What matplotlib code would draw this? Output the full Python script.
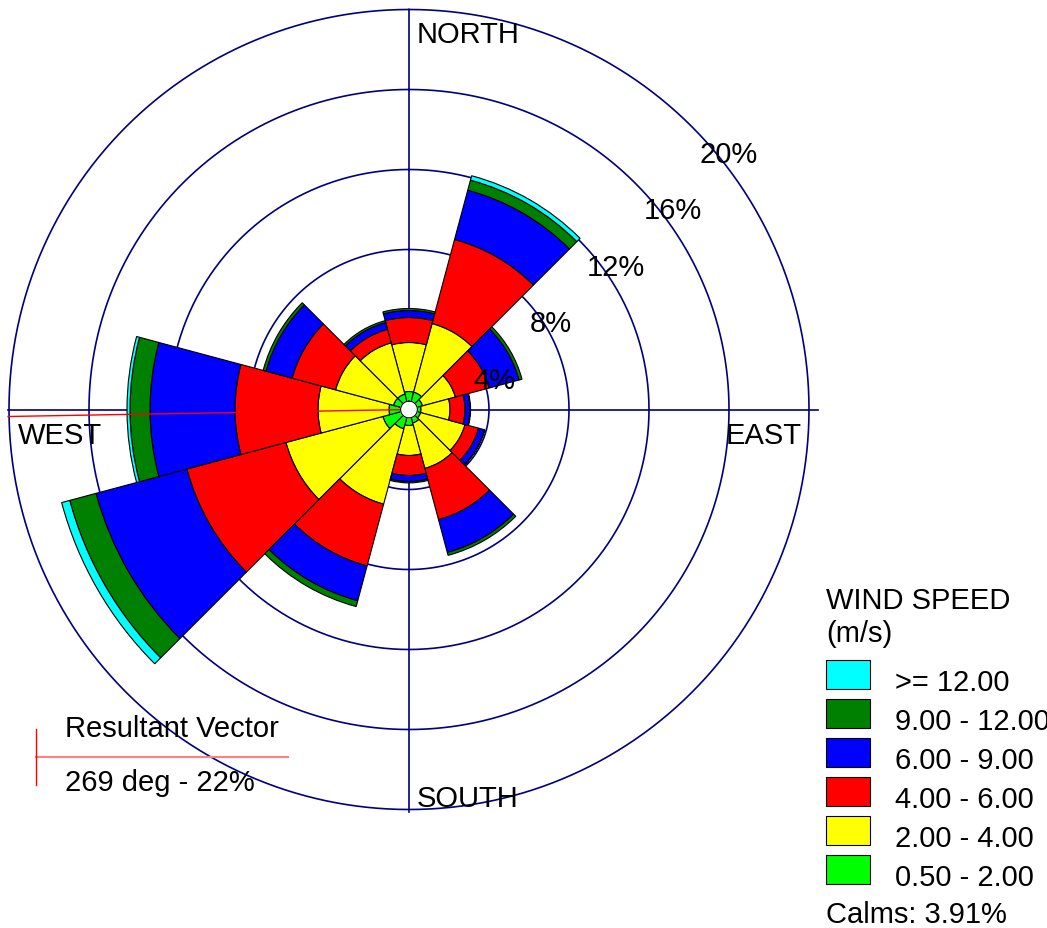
import numpy as np
import matplotlib
matplotlib.use("Agg")
import matplotlib.pyplot as plt
from matplotlib.patches import Rectangle
from matplotlib.lines import Line2D

plt.rcParams['font.family'] = ['Liberation Sans', 'DejaVu Sans']

# ---------------- data ----------------
directions_deg = [0, 30, 60, 90, 120, 150, 180, 210, 240, 270, 300, 330]
speed_labels = ["0.50 - 2.00", "2.00 - 4.00", "4.00 - 6.00", "6.00 - 9.00", "9.00 - 12.00", ">= 12.00"]
speed_colors = ["#00FF00", "#FFFF00", "#FF0000", "#0000FF", "#008000", "#00FFFF"]

freq_0p5_2 = [0.90, 0.90, 0.70, 0.60, 0.60, 0.70, 0.80, 1.00, 1.35, 1.00, 0.80, 0.80]
freq_2_4   = [2.45, 3.55, 1.70, 1.45, 2.30, 2.35, 1.50, 3.90, 5.02, 3.55, 3.00, 2.65]
freq_4_6   = [1.25, 4.35, 1.75, 0.75, 0.70, 2.65, 1.00, 3.20, 5.13, 4.15, 2.25, 0.70]
freq_6_9   = [0.35, 2.55, 1.55, 0.25, 0.30, 1.70, 0.30, 1.80, 4.70, 4.25, 1.35, 0.35]
freq_9_12  = [0.10, 0.52, 0.15, 0.03, 0.03, 0.15, 0.07, 0.30, 1.36, 1.00, 0.15, 0.10]
freq_12p   = [0.00, 0.23, 0.00, 0.00, 0.00, 0.00, 0.00, 0.00, 0.42, 0.15, 0.00, 0.00]

ring_values = [4, 8, 12, 16, 20]
ring_labels = ["4%", "8%", "12%", "16%", "20%"]
calms_pct = 3.91
resultant_deg = 269
resultant_pct = 22

# ---------------- figure ----------------
W, H = 1047, 929
FS = 21
fig = plt.figure(figsize=(W / 100, H / 100), dpi=100)
cx, cy = 409, 410.5
RMAX = 21.0
PX_PER = 20.0
rad_px = RMAX * PX_PER
ax = fig.add_axes([(cx - rad_px) / W, (H - cy - rad_px) / H, 2 * rad_px / W, 2 * rad_px / H],
                  projection='polar')
ax.set_theta_zero_location('N')
ax.set_theta_direction(-1)
ax.set_ylim(0, RMAX)
ax.set_axis_off()

navy = "#000080"
th = np.linspace(0, 2 * np.pi, 721)
for rv in ring_values:
    ax.plot(th, np.full_like(th, rv), color=navy, lw=1.2, zorder=1)
# cross lines
ax.plot([np.pi / 2, np.pi / 2], [0, 20.45], color=navy, lw=1.2, zorder=1)
ax.plot([3 * np.pi / 2, 3 * np.pi / 2], [0, 20.05], color=navy, lw=1.2, zorder=1)
ax.plot([0, 0], [0, 20.0], color=navy, lw=1.2, zorder=1)
ax.plot([np.pi, np.pi], [0, 20.1], color=navy, lw=1.2, zorder=1)

# bars
theta = np.deg2rad(directions_deg)
width = np.deg2rad(30)
series = [freq_0p5_2, freq_2_4, freq_4_6, freq_6_9, freq_9_12, freq_12p]
bottom = np.zeros(len(directions_deg))
for vals, col in zip(series, speed_colors):
    vals = np.array(vals)
    mask = vals > 0
    ax.bar(theta[mask], vals[mask], width=width, bottom=bottom[mask], color=col,
           edgecolor='black', linewidth=0.8, zorder=3)
    bottom = bottom + vals

# resultant vector
ax.plot([np.deg2rad(resultant_deg)] * 2, [0, 20.05], color='red', lw=1.0, zorder=4)

# calm circle
rc = 0.42
ax.fill(th, np.full_like(th, rc), color='white', zorder=5)
ax.plot(th, np.full_like(th, rc), color='black', lw=0.8, zorder=6)

# ring labels
for rv, lab in zip(ring_values, ring_labels):
    ax.annotate(lab, xy=(np.pi / 4, rv), xytext=(8, -27), textcoords='offset pixels',
                ha='left', va='center', fontsize=FS, color='black', zorder=7)

def ftxt(x, y, s, **kw):
    fig.text(x / W, 1 - y / H, s, fontsize=FS, color='black', **kw)

ftxt(417, 35, "NORTH", ha='left', va='center')
ftxt(417, 799, "SOUTH", ha='left', va='center')
ftxt(18, 436, "WEST", ha='left', va='center')
ftxt(726, 436, "EAST", ha='left', va='center')

# legend
ftxt(826, 601, "WIND SPEED", ha='left', va='center')
ftxt(826, 634, "(m/s)", ha='left', va='center')
box_tops = [661, 700, 739, 778, 817, 856]
for top, lab, col in zip(box_tops, speed_labels[::-1], speed_colors[::-1]):
    fig.add_artist(Rectangle((826 / W, 1 - (top + 28.5) / H), 44 / W, 28.5 / H,
                             transform=fig.transFigure, facecolor=col,
                             edgecolor='black', linewidth=0.8))
    ftxt(895, top + 22, lab, ha='left', va='center')
ftxt(826, 915, "Calms: %.2f%%" % calms_pct, ha='left', va='center')

# resultant vector legend
fig.add_artist(Line2D([36 / W, 288 / W], [1 - 757.7 / H, 1 - 757.7 / H],
                      transform=fig.transFigure, color='#FF8080', lw=1.5))
fig.add_artist(Line2D([36 / W, 36 / W], [1 - 730 / H, 1 - 786 / H],
                      transform=fig.transFigure, color='red', lw=1.0))
ftxt(65, 729, "Resultant Vector", ha='left', va='center')
ftxt(65, 783, "%d deg - %d%%" % (resultant_deg, resultant_pct), ha='left', va='center')

fig.savefig("out.png", dpi=100)
